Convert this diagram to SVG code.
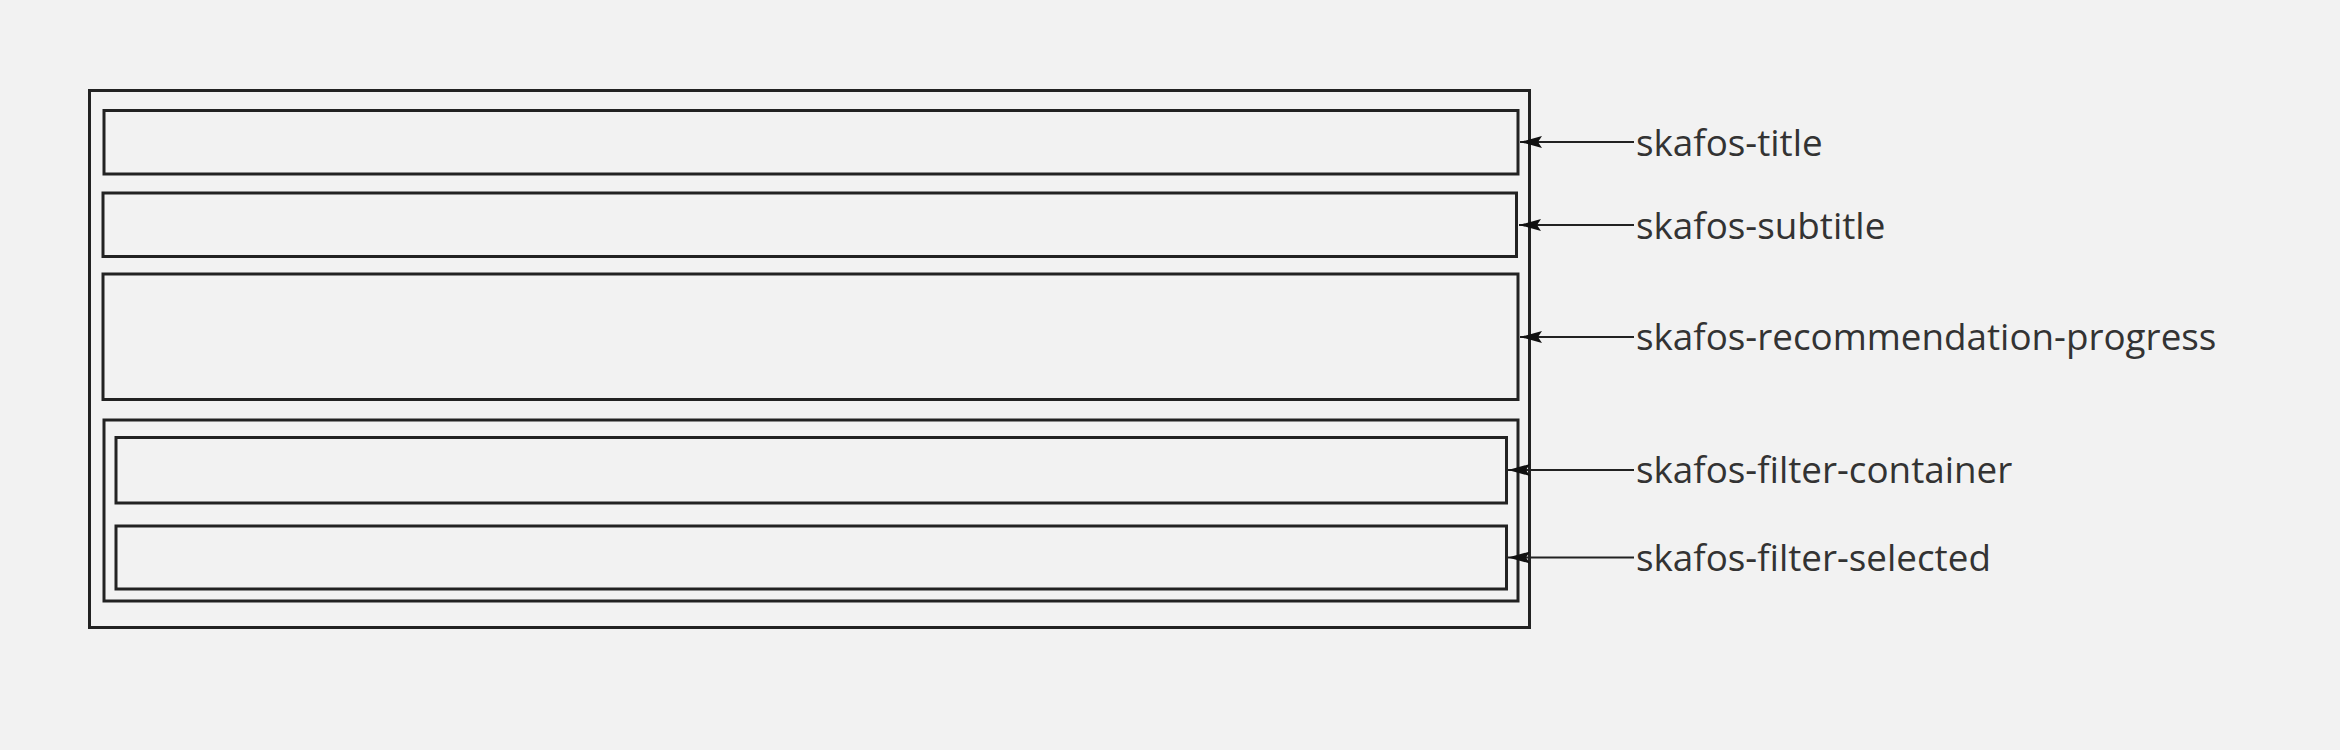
<svg xmlns="http://www.w3.org/2000/svg" width="2340" height="750" viewBox="0 0 2340 750">
  <style>
    .box { fill: none; stroke: #222; stroke-width: 3; }
    .conn { fill: none; stroke: #222; stroke-width: 2; }
    .label { font-family: "Open Sans", "Noto Sans", sans-serif; font-size: 36.8px; fill: #333; }
  </style>
  <defs>
    <marker id="arrow" markerUnits="userSpaceOnUse" viewBox="0 0 22 12" refX="22" refY="6" markerWidth="22" markerHeight="12" orient="auto">
      <path d="M0,0 L22,6 L0,12 L4,6 z" fill="#111"/>
    </marker>
  </defs>
  <rect width="2340" height="750" fill="#f2f2f2"/>
  <g id="outer-container">
    <rect class="box" x="89.5" y="90.5" width="1440" height="537"/>
  </g>
  <g id="skafos-title">
    <rect class="box" x="104" y="110.5" width="1414" height="63.5"/>
  </g>
  <g id="skafos-subtitle">
    <rect class="box" x="103" y="193" width="1413.5" height="63.5"/>
  </g>
  <g id="skafos-recommendation-progress">
    <rect class="box" x="103" y="274" width="1415" height="125.5"/>
  </g>
  <g id="filter-wrapper">
    <rect class="box" x="104" y="420" width="1414" height="181"/>
  </g>
  <g id="skafos-filter-container">
    <rect class="box" x="116" y="437.5" width="1390.5" height="65.5"/>
  </g>
  <g id="skafos-filter-selected">
    <rect class="box" x="116" y="526" width="1390.5" height="63"/>
  </g>
  <g id="connectors">
    <path class="conn" d="M1634,142 H1520" marker-end="url(#arrow)"/>
    <path class="conn" d="M1634,225 H1519" marker-end="url(#arrow)"/>
    <path class="conn" d="M1634,337 H1520" marker-end="url(#arrow)"/>
    <path class="conn" d="M1634,470 H1508" marker-end="url(#arrow)"/>
    <path class="conn" d="M1634,557.5 H1508" marker-end="url(#arrow)"/>
  </g>
  <g id="labels">
    <text class="label" x="1636" y="155.5">skafos-title</text>
    <text class="label" x="1636" y="238.5">skafos-subtitle</text>
    <text class="label" x="1636" y="350">skafos-recommendation-progress</text>
    <text class="label" x="1636" y="483">skafos-filter-container</text>
    <text class="label" x="1636" y="570.5">skafos-filter-selected</text>
  </g>
</svg>
